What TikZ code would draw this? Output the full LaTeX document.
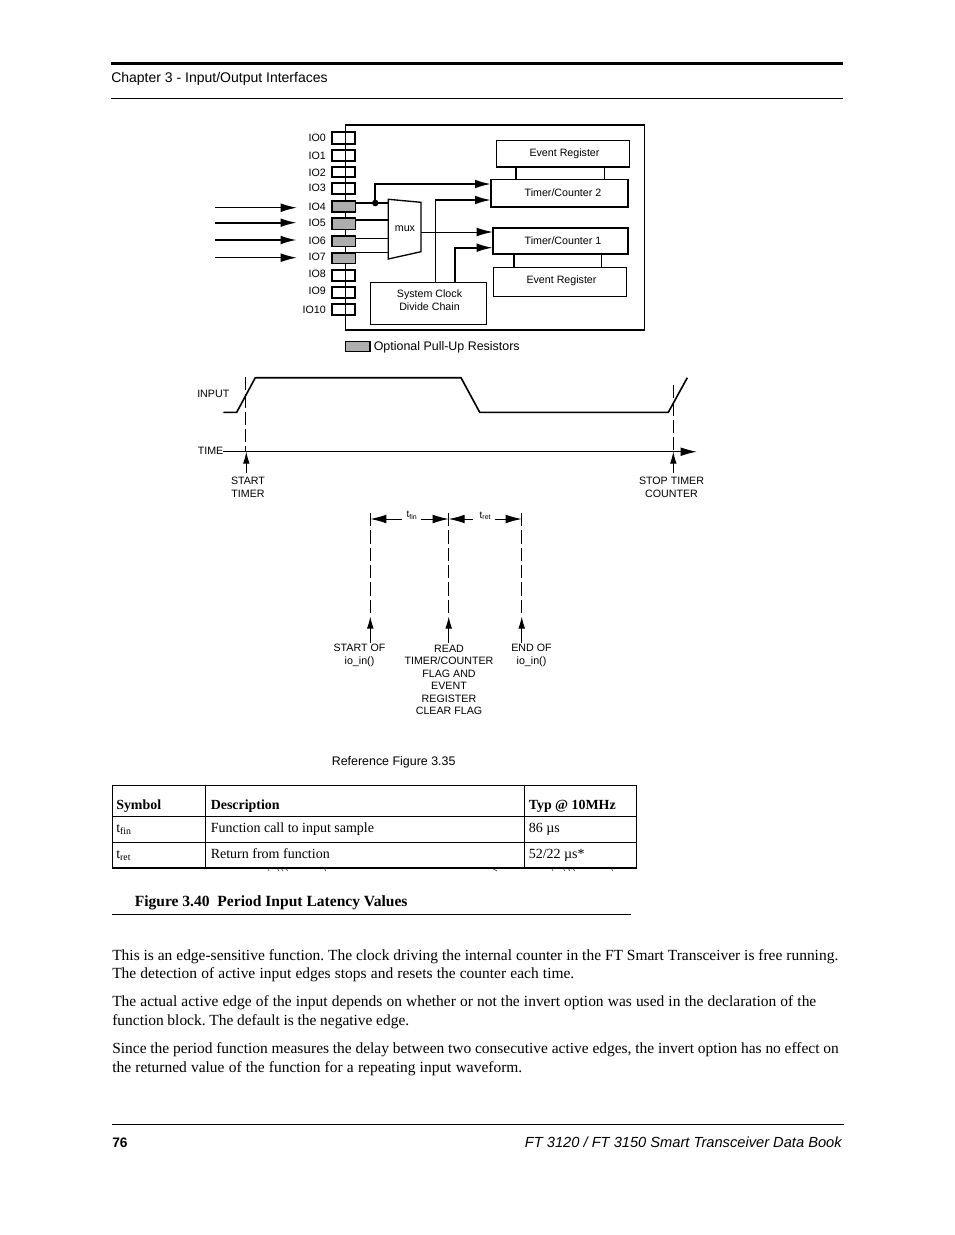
\documentclass[tikz,border=0pt]{standalone}
\usepackage{fontspec}
\setmainfont{Liberation Serif}
\newfontfamily\arial{Liberation Sans}
\usetikzlibrary{arrows.meta}
\frenchspacing
\newcommand\bodyline[2]{\hbox to #1\dimexpr 0.75pt\relax{#2}}
\tikzset{
 x=0.75pt,y=-0.75pt,
 thin line/.style={line width=0.7pt},
 thick line/.style={line width=1.3pt},
 box/.style={draw,line width=1.25pt},
 part/.style={draw,outer sep=0pt,inner sep=0pt,anchor=north west},
 sm/.style={inner sep=0pt,yshift=-0.75pt,font=\arial\fontsize{8}{9.4}\selectfont,align=center},
 lab/.style={inner sep=0pt,yshift=-0.75pt,anchor=west,font=\arial\fontsize{9.33}{11}\selectfont},
 hd/.style={inner sep=0pt,anchor=base west,font=\arial\fontsize{10.5}{12}\selectfont},
 body/.style={inner sep=0pt,anchor=base west,font=\fontsize{11.6}{14}\selectfont},
 tb/.style={inner sep=0pt,anchor=base west,font=\fontsize{10.5}{12}\selectfont},
 tbb/.style={inner sep=0pt,anchor=base west,font=\bfseries\fontsize{10.45}{12}\selectfont},
 ah/.style={-{Latex[length=12pt,width=6.5pt]}},
 ahs/.style={-{Latex[length=9pt,width=5pt]}},
 dashline/.style={line width=0.6pt,dash pattern=on 10pt off 3pt},
 frag/.style={line width=0.5pt,black!75},
}
\definecolor{pull}{gray}{0.68}
\begin{document}
\begin{tikzpicture}
\useasboundingbox (0,0) rectangle (954,1235);
% page furniture
\draw[line width=1.9pt] (111,63.5) -- (843,63.5);
\draw[line width=0.6pt] (111,98) -- (843,98);
\node[hd] at (111,82) {Chapter 3 - Input/Output Interfaces};
\draw[line width=0.6pt] (112,1124.5) -- (844,1124.5);
\node[hd,font=\arial\bfseries\fontsize{10.3}{12}\selectfont] at (112,1147) {76};
\node[hd,anchor=base east,font=\arial\itshape\fontsize{11}{12}\selectfont] at (842,1147) {FT 3120 / FT 3150 Smart Transceiver Data Book};
% block
\draw[line width=1.1pt] (345.7,125) rectangle (644.3,330);
\foreach \n/\t/\b/\ly/\c in {0/132.3/143.7/137/white,1/149.7/160.7/155/white,2/166.7/177.3/172/white,3/183.3/194.3/187/white,4/201.3/212/206/pull,5/218.3/229.3/222/pull,6/235.7/246.3/240/pull,7/252.7/263.3/256/pull,8/270/281/273/white,9/286.7/297.7/290/white,10/304/315/309/white}{
 \draw[box,fill=\c] (332,\t) rectangle (355.3,\b);
 \draw[line width=1.1pt] (345.7,\t) -- (345.7,\b);
 \node[sm,anchor=east] (io\n) at (326,\ly) {IO\n};
}
\foreach \t/\b in {201.3/212,218.3/229.3,235.7/246.3,252.7/263.3}{\fill[pull] (333,\t+.8) rectangle (354.6,\b-.8);}
\node[part,line width=0.8pt,minimum width=132.6*0.75pt,minimum height=26.7*0.75pt] (er2) at (496.7,140.3) {};
\node[sm] at (564.5,152.5) {Event Register};
\node[part,line width=1.1pt,minimum width=137*0.75pt,minimum height=27.7*0.75pt] (tc2) at (491,179.3) {};
\node[sm] at (563,192) {Timer/Counter 2};
\node[part,line width=1.4pt,minimum width=135.3*0.75pt,minimum height=25.7*0.75pt] (tc1) at (492.7,228.3) {};
\node[sm] at (563,239.5) {Timer/Counter 1};
\node[part,line width=0.8pt,minimum width=133.4*0.75pt,minimum height=28.6*0.75pt] (er1) at (493.3,267.7) {};
\node[sm] at (561.5,279.5) {Event Register};
\node[part,line width=0.9pt,minimum width=115.6*0.75pt,minimum height=41.6*0.75pt] (clk) at (370.7,282.7) {};
\node[sm] at (429.5,299) {System Clock\\Divide Chain};
\draw[line width=1pt] (388.3,199.3) -- (421,202.3) -- (421,251.7) -- (388.3,259) -- cycle;
\node[sm] (mux) at (405,227.5) {mux};
\coordinate (dot) at (375.3,203);
% connectors
\draw[thick line] (355.3,203) -- (388.3,203);
\draw[thick line] (355.3,220) -- (388.3,220);
\draw[thin line] (355.3,238) -- (388.3,238);
\draw[thin line] (355.3,252) -- (388.3,252);
\fill (dot) circle (3.3);
\draw[thick line,ah] (dot) -- (375.3,184) -- (tc2.west |- 0,184);
\draw[thin line] (clk.north -| 435,0) -- (435,200);
\draw[thick line,ah] (435,200) -- (tc2.west |- 0,200);
\draw[thick line,ah] (clk.north -| 455.3,0) -- (455.3,247.7) -- (tc1.west |- 0,247.7);
\draw[thin line,ah] (421,232) -- (tc1.west |- 0,232);
\draw[thick line] (er2.south -| 515.7,0) -- (tc2.north -| 515.7,0);
\draw[thin line] (er2.south -| 604.3,0) -- (tc2.north -| 604.3,0);
\draw[thick line] (tc1.south -| 513.7,0) -- (er1.north -| 513.7,0);
\draw[thin line] (tc1.south -| 601.3,0) -- (er1.north -| 601.3,0);
\coordinate (a1) at (215,207.7); \coordinate (a2) at (215,222.7); \coordinate (a3) at (215,240); \coordinate (a4) at (215,257.7);
\draw[thin line,ah] (a1) -- (296.7,207.7);
\draw[thick line,ah] (a2) -- (296.7,222.7);
\draw[thick line,ah] (a3) -- (296.7,240);
\draw[thin line,ah] (a4) -- (296.7,257.7);
% legend
\draw[line width=0.9pt,fill=pull] (345.7,341.7) rectangle (370,351.7);
\node[lab] at (373.5,346) {Optional Pull-Up Resistors};
% timing
\node[sm,anchor=west] at (197,393) {INPUT};
\node[sm,anchor=west] at (197.5,449.5) {TIME};
\draw[line width=1.2pt,line join=miter] (223.3,412.3) -- (236.7,412.3) -- (255.3,377.7) -- (461,377.7) -- (479.7,412.3) -- (668.3,412.3) -- (687.3,377.7);
\draw[thin line,ah] (223.3,451.7) -- (696.7,451.7);
\draw[dashline] (245.7,377) -- (245.7,451);
\draw[dashline] (673.3,385) -- (673.3,451);
\draw[thin line,ahs] (246.3,473) -- (246.3,451.7);
\draw[thin line,ahs] (673.3,473) -- (673.3,451.7);
\node[sm] at (248,486.5) {START\\TIMER};
\node[sm] at (671.5,486.5) {STOP TIMER\\COUNTER};
% latency
\draw[dashline] (370.3,513) -- (370.3,614);
\draw[dashline] (448.7,513) -- (448.7,614);
\draw[dashline] (521.7,513) -- (521.7,614);
\draw[thin line,ah] (402,519) -- (370.3,519);
\draw[thin line,ah] (421,519) -- (448.7,519);
\draw[thin line,ah] (473,519) -- (448.7,519);
\draw[thin line,ah] (495,519) -- (521.7,519);
\node[sm,font=\arial\fontsize{7.5}{9}\selectfont] at (412,514.5) {t\textsubscript{fin}};
\node[sm,font=\arial\fontsize{7.5}{9}\selectfont] at (485.5,514.5) {t\textsubscript{ret}};
\draw[thin line,ahs] (370.3,643) -- (370.3,616.5);
\draw[thin line,ahs] (448.7,643) -- (448.7,616.5);
\draw[thin line,ahs] (521.7,643) -- (521.7,616.5);
\node[sm] at (359.5,654.3) {START OF\\io\_in()};
\node[sm] at (449,679) {READ\\TIMER/COUNTER\\FLAG AND\\EVENT\\REGISTER\\CLEAR FLAG};
\node[sm] at (531.5,654.3) {END OF\\io\_in()};
\node[lab] at (331.5,761) {Reference Figure 3.35};
% clipped remnants under the table
\foreach \xa/\xb in {267.5/269,277/279,281/283,285/288,324.5/325.5,492/497,551.5/553,563/565,568/570,572/575,611.5/612.5}{\draw[frag] (\xa,868) -- (\xb,871);}
% table
\draw[line width=1pt] (112.5,785.5) rectangle (636.5,868);
\draw[line width=0.6pt] (112.5,816.5) -- (636.5,816.5);
\draw[line width=0.6pt] (112.5,842.5) -- (636.5,842.5);
\draw[line width=0.6pt] (205,785.5) -- (205,868);
\draw[line width=0.6pt] (524.5,785.5) -- (524.5,868);
\draw[line width=1.6pt] (112.5,868) -- (636.5,868);
\node[tbb] at (116,809) {Symbol};
\node[tbb] at (210.5,809) {Description};
\node[tbb] at (528.5,809) {Typ @ 10MHz};
\node[tb] at (116,832) {t\textsubscript{fin}};
\node[tb] at (210.5,832) {Function call to input sample};
\node[tb] at (528.5,832) {86 µs};
\node[tb] at (116,858) {t\textsubscript{ret}};
\node[tb] at (210.5,858) {Return from function};
\node[tb] at (528.5,858) {52/22 µs*};
\node[tbb,font=\bfseries\fontsize{11.67}{13}\selectfont] at (134.5,906) {Figure 3.40\ \ Period Input Latency Values};
\draw[line width=0.6pt] (112,914.5) -- (631,914.5);
% body
\node[body] at (112,960) {\bodyline{726}{This is an edge-sensitive function. The clock driving the internal counter in the FT Smart Transceiver is free running.}};
\node[body] at (112,978) {\bodyline{462}{The detection of active input edges stops and resets the counter each time.}};
\node[body] at (112,1006) {\bodyline{704}{The actual active edge of the input depends on whether or not the invert option was used in the declaration of the}};
\node[body] at (112,1025) {\bodyline{297}{function block. The default is the negative edge.}};
\node[body] at (112,1053) {\bodyline{726.5}{Since the period function measures the delay between two consecutive active edges, the invert option has no effect on}};
\node[body] at (112,1072) {\bodyline{410}{the returned value of the function for a repeating input waveform.}};
\end{tikzpicture}
\end{document}
